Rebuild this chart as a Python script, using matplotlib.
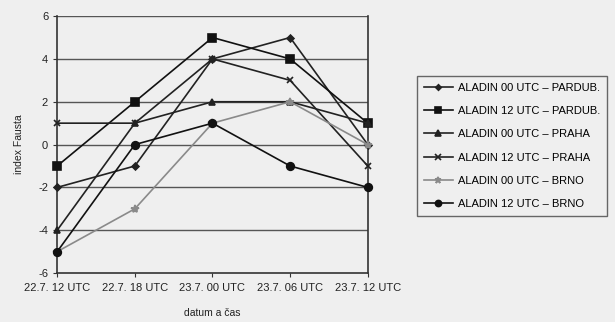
import matplotlib
matplotlib.use("Agg")
import matplotlib.pyplot as plt

plt.rcParams['font.family'] = ['Liberation Sans', 'DejaVu Sans']

categories = ["22.7. 12 UTC", "22.7. 18 UTC", "23.7. 00 UTC", "23.7. 06 UTC", "23.7. 12 UTC"]
pardub_00 = [-2, -1, 4, 5, 0]
pardub_12 = [-1, 2, 5, 4, 1]
praha_00 = [-4, 1, 2, 2, 1]
praha_12 = [1, 1, 4, 3, -1]
brno_00 = [-5, -3, 1, 2, 0]
brno_12 = [-5, 0, 1, -1, -2]
labels = ["ALADIN 00 UTC – PARDUB.", "ALADIN 12 UTC – PARDUB.", "ALADIN 00 UTC – PRAHA",
          "ALADIN 12 UTC – PRAHA", "ALADIN 00 UTC – BRNO", "ALADIN 12 UTC – BRNO"]
yticks = [-6, -4, -2, 0, 2, 4, 6]

bg = "#efefef"
fig = plt.figure(figsize=(6.15, 3.22), dpi=100, facecolor=bg)
ax = fig.add_axes([0.093, 0.152, 0.505, 0.798])
ax.set_facecolor(bg)

x = list(range(len(categories)))
styles = [
    (pardub_00, "D", 3.5, "#222222"),
    (pardub_12, "s", 6, "#111111"),
    (praha_00, "^", 5, "#222222"),
    (praha_12, "x", 5, "#222222"),
    (brno_00, "*", 6, "#8a8a8a"),
    (brno_12, "o", 5.5, "#111111"),
]
for (vals, mk, ms, col), lab in zip(styles, labels):
    ax.plot(x, vals, color=col, marker=mk, markersize=ms, linewidth=1.2,
            markeredgewidth=1.2, label=lab, clip_on=False, zorder=3)

for yv in yticks[1:]:
    ax.axhline(yv, color="#555555", linewidth=1.0, zorder=1)

ax.set_xlim(0, 4)
ax.set_ylim(-6, 6)
ax.set_yticks(yticks)
ax.set_yticklabels([str(v) for v in yticks])
ax.set_xticks(x)
ax.set_xticklabels(categories)
ax.tick_params(axis="both", labelsize=8, length=3, color="#333333", labelcolor="#222222")
ax.tick_params(axis="x", pad=4)
for s in ["left", "bottom", "right"]:
    ax.spines[s].set_color("#333333")
    ax.spines[s].set_linewidth(1.2)
ax.spines["top"].set_visible(False)

ax.set_ylabel("index Fausta", fontsize=7.5, color="#222222", labelpad=10)
ax.set_xlabel("datum a čas", fontsize=7.5, color="#222222", labelpad=11)

leg = fig.legend(loc="upper left", bbox_to_anchor=(0.678, 0.764), fontsize=8,
                 frameon=True, fancybox=False, edgecolor="#444444", facecolor=bg,
                 labelspacing=1.2, handlelength=2.6, handletextpad=0.5,
                 borderpad=0.6, borderaxespad=0, markerscale=0.8)
leg.get_frame().set_linewidth(1.0)

fig.savefig("out.png", dpi=100, facecolor=bg)
